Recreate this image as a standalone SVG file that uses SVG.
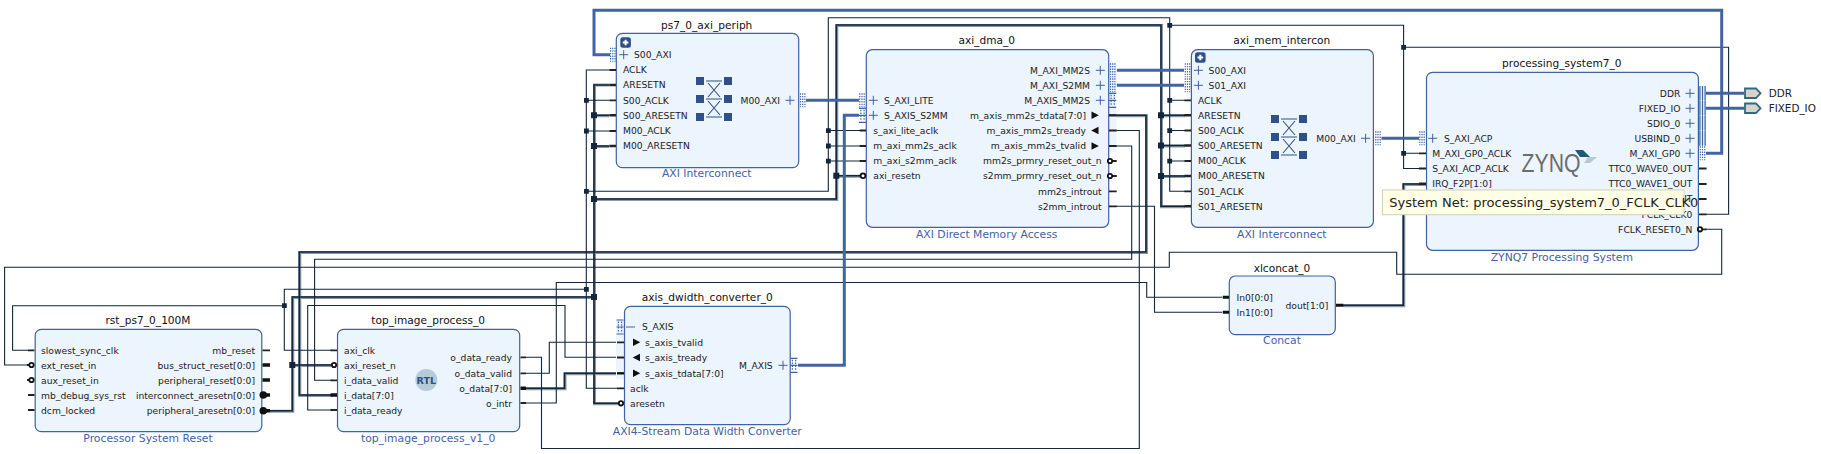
<svg xmlns="http://www.w3.org/2000/svg" width="1821" height="454" viewBox="0 0 1821 454">
<style>
text{font-family:"DejaVu Sans",sans-serif;font-size:9.2px;fill:#222}
.r{text-anchor:end}
.t{font-size:10.6px;text-anchor:middle;fill:#111}
.s{font-size:10.8px;text-anchor:middle;fill:#3f62a6}
.box{fill:#ecf4fe;stroke:#3f62a6;stroke-width:1.2}
.bg{fill:#ecf4fe}
.w{fill:none;stroke:#12263c;stroke-width:1.1}
.h{fill:none;stroke:#8a97a5;stroke-width:3}
.k{fill:none;stroke:#12263c;stroke-width:1.6}
.b{fill:none;stroke:#4264a4;stroke-width:3}
.j{fill:#12263c}
.st{fill:none;stroke:#222;stroke-width:1.8}
.sb{fill:none;stroke:#111;stroke-width:3.4}
.pl{fill:none;stroke:#3f62a6;stroke-width:1}
.neg{fill:#fff;stroke:#111;stroke-width:1.8}
.tri{fill:#111}
.port{fill:#d8d2cc;stroke:#2f6a80;stroke-width:1.8}
</style>
<defs>
<g id="hA"><path d="M-2.2-7V7M0-7V7M2.2-7V7" fill="none" stroke="#3f68ac" stroke-width="1.2" stroke-dasharray="1.4 1.2"/></g>
<g id="hS"><path d="M-3.5-7H3.5M-3.5 0H3.5M-3.5 7H3.5" fill="none" stroke="#3f62a6" stroke-width="1.2"/><path d="M-1.6-5.5V5.5M1.6-5.5V5.5" fill="none" stroke="#3f62a6" stroke-width="1.2" stroke-dasharray="1.5 1.3"/></g>
<g id="hD"><path d="M-2.6-7.4V7.4M0-7.4V7.4M2.6-7.4V7.4" fill="none" stroke="#3f62a6" stroke-width="1.3"/></g>
<g id="plus"><path d="M-4.5 0H4.5M0-4.5V4.5" class="pl"/></g>
<g id="tr"><path d="M-3.5-3.8L3.8 0L-3.5 3.8Z" class="tri"/></g>
<g id="tl"><path d="M3.5-3.8L-3.8 0L3.5 3.8Z" class="tri"/></g>
<g id="xb"><path d="M0 0h8v8h-8zM28 0h8v8h-8zM0 18h8v8h-8zM28 18h8v8h-8zM0 36h8v8h-8zM28 36h8v8h-8z" fill="#2f5088"/><path d="M10 4H26M10 22H26M10 40H26M12 6L24 20M24 6L12 20M12 24L24 38M24 24L12 38" fill="none" stroke="#2f5088" stroke-width="1.1"/></g>
<g id="exp"><rect width="10.6" height="10.4" rx="2.5" fill="#2f5088"/><path d="M5.3 2.4V8M2.5 5.2H8.1" stroke="#fff" stroke-width="2"/></g>
</defs>
<rect width="1821" height="454" fill="#fff"/>

<g id="connectors">
<g>
<path class="h" d="M609.3 85H594.5V403.8H620M594.5 115.8H609M594.5 146.5H609M594.5 199.5H836.8V25.5H1161.5V206.8H1185M836.8 176.2H860M1161.5 115.8H1185M1161.5 146H1185M1161.5 176.5H1185M594.5 297.5H292.8V411.2H270M292.8 365.5H331M1116 115.8H1146.5V252.5H299.8V395.5H333M526 388.8H565V373.8H617M1343 305.8H1403.8V184.5H1419"/>
<path class="k" d="M609.3 85H594V403.3H620M594 115.3H609M594 146H609M594 199H836.3V25H1161V206.3H1185M836.3 175.7H860M1161 115.3H1185M1161 145.5H1185M1161 176H1185M594 297H292.3V410.7H270M292.3 365H331M1116 115.3H1146V252H299.3V395H333M526 388.3H564.5V373.3H617M1343 305.3H1403.3V184H1419"/>
</g>
<path class="w" d="M609 70H586.3V388.3H617M586.3 100.3H609M586.3 131H609M586.3 191.3H828.3V161H860M828.3 130.5H860M828.3 146H860M828.3 161V17.7H1169.7V191.3H1185M1169.7 100.3H1185M1169.7 130.5H1185M1169.7 161H1185M1169.7 25.3H1403.6V168.5H1419M1403.6 153.3H1419M1403.6 47.3H1728.6V214.3H1706M586.3 289.3H284.3V350.3H333M284.3 305.7H12.6V350.3H28"/>
<path class="w" d="M1706 229.3H1721.7V274.3H1396.7V252.3H1169.3V267.3H4.6V365H28M1116 146H1131.7V259.3H314.6V380.3H333M1116 130.5H1139.3V448.5H541.5V357.3H526M333 410H307.7V305.5H565V357.3H617M526 373.3H549.3V342.3H617M526 403H556.3V282.5H1146.7V297.3H1222M1116 206.3H1154.5V312.3H1222"/>
<path class="b" d="M1706 153.3H1721.7V10.3H594V54.7H610M806 100.3H859M798 365.3H844.3V115.3H859M1116.7 70.3H1184M1116.7 85.3H1184M1381.5 138.3H1419M1706 93.3H1744M1706 108.3H1744"/>
<path class="j" d="M584 98h4.8v4.8h-4.8zM584 128.6h4.8v4.8h-4.8zM584 189h4.8v4.8h-4.8zM826 128.2h4.8v4.8h-4.8zM826 143.6h4.8v4.8h-4.8zM826 158.7h4.8v4.8h-4.8zM1167.3 23h4.8v4.8h-4.8zM1167.3 98h4.8v4.8h-4.8zM1167.3 128.2h4.8v4.8h-4.8zM1167.3 158.7h4.8v4.8h-4.8zM1401.2 45h4.8v4.8h-4.8zM1401.2 151h4.8v4.8h-4.8zM584 287h4.8v4.8h-4.8zM282 303.3h4.8v4.8h-4.8z"/>
<path class="j" d="M591 112.3h6v6h-6zM591 143h6v6h-6zM591 196h6v6h-6zM591 294h6v6h-6zM833.3 172.7h6v6h-6zM1158 112.3h6v6h-6zM1158 142.5h6v6h-6zM1158 173h6v6h-6zM289.3 362h6v6h-6z"/>
</g>

<g id="rst_ps7_0_100M">
<text class="t" x="148" y="324.2">rst_ps7_0_100M</text>
<rect class="box" x="35.2" y="329.3" width="226.6" height="102.4" rx="6"/>
<path class="st" d="M28 350.3H34.5M28 395H34.5M28 410H34.5M262.5 350.3H270"/>
<path class="sb" d="M262.5 365H270M262.5 380H270M262.5 395H270M262.5 410.7H270"/>
<path class="st" d="M27 365H30M27 380H30"/>
<circle class="neg" cx="31.5" cy="365" r="2.2"/><circle class="neg" cx="31.5" cy="380" r="2.2"/>
<circle cx="263.3" cy="395" r="3.8" fill="#111"/><circle cx="263.3" cy="410.7" r="3.8" fill="#111"/>
<text x="41" y="353.5">slowest_sync_clk</text><text x="41" y="368.5">ext_reset_in</text><text x="41" y="383.5">aux_reset_in</text><text x="41" y="398.5">mb_debug_sys_rst</text><text x="41" y="413.5">dcm_locked</text>
<text class="r" x="255" y="353.5">mb_reset</text><text class="r" x="255" y="368.5">bus_struct_reset[0:0]</text><text class="r" x="255" y="383.5">peripheral_reset[0:0]</text><text class="r" x="255" y="398.5">interconnect_aresetn[0:0]</text><text class="r" x="255" y="413.5">peripheral_aresetn[0:0]</text>
<text class="s" x="148" y="442.3">Processor System Reset</text>
</g>

<g id="top_image_process_0">
<text class="t" x="428.2" y="324.2">top_image_process_0</text>
<rect class="box" x="337.5" y="329.3" width="182.2" height="102.4" rx="6"/>
<path class="st" d="M330.5 350.3H337M330.5 380.3H337M330.5 410H337M520.5 357.3H526M520.5 373.3H526M520.5 403H526"/>
<path class="sb" d="M330.5 395H337M520.5 388.3H526"/>
<circle class="neg" cx="334" cy="365" r="2.2"/>
<text x="344" y="353.5">axi_clk</text><text x="344" y="368.5">axi_reset_n</text><text x="344" y="383.5">i_data_valid</text><text x="344" y="398.5">i_data[7:0]</text><text x="344" y="413.5">i_data_ready</text>
<text class="r" x="512" y="360.5">o_data_ready</text><text class="r" x="512" y="376.5">o_data_valid</text><text class="r" x="512" y="391.5">o_data[7:0]</text><text class="r" x="512" y="406.5">o_intr</text>
<circle cx="426.3" cy="380" r="11" fill="#b5cbd8"/>
<text x="426.3" y="383.7" text-anchor="middle" style="font-size:9.5px;font-weight:bold;fill:#2f5088">RTL</text>
<text class="s" x="428.2" y="442.3">top_image_process_v1_0</text>
</g>

<g id="axis_dwidth_converter_0">
<text class="t" x="707.3" y="301.2">axis_dwidth_converter_0</text>
<rect class="bg" x="616" y="320" width="10" height="59"/>
<rect class="box" x="624.5" y="306.3" width="165.7" height="118.4" rx="6"/>
<path class="st" d="M617 342.3H624M617 357.5H624M617 388.3H624"/>
<path d="M617 373.3H624" class="sb" style="stroke-width:2.4"/>
<path class="pl" d="M626 327H635"/>
<use href="#hS" x="620" y="327"/>
<use href="#tr" x="636.5" y="342.3"/><use href="#tl" x="636.5" y="357.5"/><use href="#tr" x="636.5" y="373.3"/>
<circle class="neg" cx="621" cy="403.3" r="2.2"/>
<text x="642" y="330.3">S_AXIS</text><text x="645" y="345.5">s_axis_tvalid</text><text x="645" y="360.8">s_axis_tready</text><text x="645" y="376.5">s_axis_tdata[7:0]</text><text x="630" y="391.5">aclk</text><text x="630" y="406.5">aresetn</text>
<text class="r" x="772.7" y="368.5">M_AXIS</text>
<use href="#plus" x="783" y="365.3"/><use href="#hS" x="794" y="365.3"/>
<text class="s" x="707.3" y="435.3">AXI4-Stream Data Width Converter</text>
</g>

<g id="ps7_0_axi_periph">
<text class="t" x="706.7" y="28.8">ps7_0_axi_periph</text>
<rect class="box" x="616.3" y="33.3" width="182.4" height="134.4" rx="6"/>
<use href="#exp" x="620.3" y="37.3"/>
<path class="st" d="M609.3 70H616M609.3 100.3H616M609.3 131H616"/>
<path class="st" style="stroke-width:2.4" d="M609.3 85H616M609.3 115.3H616M609.3 146H616"/>
<use href="#hA" x="612.8" y="54.7"/><use href="#plus" x="623.7" y="54.7"/>
<use href="#xb" x="696" y="77"/>
<text x="634" y="57.9">S00_AXI</text><text x="623" y="73.2">ACLK</text><text x="623" y="88.2">ARESETN</text><text x="623" y="103.5">S00_ACLK</text><text x="623" y="118.5">S00_ARESETN</text><text x="623" y="133.8">M00_ACLK</text><text x="623" y="148.8">M00_ARESETN</text>
<text class="r" x="780" y="103.5">M00_AXI</text>
<use href="#plus" x="790" y="100.3"/><use href="#hA" x="802.7" y="100.3"/>
<text class="s" x="706.7" y="177.3">AXI Interconnect</text>
</g>

<g id="axi_dma_0">
<text class="t" x="986.7" y="44.2">axi_dma_0</text>
<rect class="bg" x="1105" y="63" width="11.5" height="89"/>
<rect class="box" x="866.3" y="49.7" width="242.4" height="177.6" rx="6"/>
<path class="st" d="M859.7 130.5H866M859.7 146H866M859.7 161H866M1109 130.5H1116.7M1109 146H1116.7M1112 161H1116.7M1112 176H1116.7M1109 191.3H1116.7M1109 206.3H1116.7"/>
<path class="st" style="stroke-width:2.4" d="M1109 115.3H1116.7"/>
<circle class="neg" cx="863" cy="175.7" r="2.4"/><circle class="neg" cx="1110" cy="161" r="2.2"/><circle class="neg" cx="1110" cy="176" r="2.2"/>
<use href="#hA" x="862" y="100.3"/><use href="#hS" x="862.5" y="115.3"/>
<use href="#plus" x="873.3" y="100.3"/><use href="#plus" x="873.3" y="115.3"/>
<use href="#plus" x="1100.3" y="70.3"/><use href="#plus" x="1100.3" y="85.3"/><use href="#plus" x="1100.3" y="100.3"/>
<use href="#hA" x="1112.7" y="70.3"/><use href="#hA" x="1112.7" y="85.3"/><use href="#hS" x="1112.7" y="100.3"/>
<use href="#tr" x="1095" y="115.3"/><use href="#tl" x="1095" y="130.5"/><use href="#tr" x="1095" y="146"/>
<text x="884" y="103.5">S_AXI_LITE</text><text x="884" y="118.5">S_AXIS_S2MM</text><text x="873.3" y="133.8">s_axi_lite_aclk</text><text x="873.3" y="149.2">m_axi_mm2s_aclk</text><text x="873.3" y="164.2">m_axi_s2mm_aclk</text><text x="873.3" y="179">axi_resetn</text>
<text class="r" x="1090" y="73.5">M_AXI_MM2S</text><text class="r" x="1090" y="88.5">M_AXI_S2MM</text><text class="r" x="1090" y="103.5">M_AXIS_MM2S</text><text class="r" x="1086" y="118.5">m_axis_mm2s_tdata[7:0]</text><text class="r" x="1086" y="133.8">m_axis_mm2s_tready</text><text class="r" x="1086" y="149.2">m_axis_mm2s_tvalid</text><text class="r" x="1101.7" y="164.2">mm2s_prmry_reset_out_n</text><text class="r" x="1101.7" y="179.2">s2mm_prmry_reset_out_n</text><text class="r" x="1101.7" y="194.5">mm2s_introut</text><text class="r" x="1101.7" y="209.5">s2mm_introut</text>
<text class="s" x="986.7" y="238.3">AXI Direct Memory Access</text>
</g>

<g id="axi_mem_intercon">
<text class="t" x="1281.8" y="44.2">axi_mem_intercon</text>
<rect class="box" x="1191.4" y="49.7" width="182" height="177.6" rx="6"/>
<use href="#exp" x="1195" y="52.3"/>
<path class="st" d="M1184.5 100.3H1191M1184.5 130.5H1191M1184.5 161H1191M1184.5 191.3H1191"/>
<path class="st" style="stroke-width:2.4" d="M1184.5 115.3H1191M1184.5 145.5H1191M1184.5 176H1191M1184.5 206.3H1191"/>
<use href="#hA" x="1187.5" y="70.3"/><use href="#hA" x="1187.5" y="85.3"/><use href="#plus" x="1198.4" y="70.3"/><use href="#plus" x="1198.4" y="85.3"/>
<use href="#xb" x="1271" y="115"/>
<text x="1208.6" y="73.5">S00_AXI</text><text x="1208.6" y="88.5">S01_AXI</text><text x="1198" y="103.5">ACLK</text><text x="1198" y="118.5">ARESETN</text><text x="1198" y="133.8">S00_ACLK</text><text x="1198" y="148.8">S00_ARESETN</text><text x="1198" y="164.2">M00_ACLK</text><text x="1198" y="179.2">M00_ARESETN</text><text x="1198" y="194.5">S01_ACLK</text><text x="1198" y="209.5">S01_ARESETN</text>
<text class="r" x="1355.8" y="141.5">M00_AXI</text>
<use href="#plus" x="1365.6" y="138.3"/><use href="#hA" x="1378" y="138.3"/>
<text class="s" x="1281.8" y="238.3">AXI Interconnect</text>
</g>

<g id="xlconcat_0">
<text class="t" x="1282" y="271.8">xlconcat_0</text>
<rect class="box" x="1229.3" y="276" width="106" height="58.7" rx="6"/>
<path class="sb" style="stroke-width:3" d="M1222.7 297.3H1229M1222.7 312.3H1229M1336 305.3H1343.3"/>
<text x="1236.5" y="300.5">In0[0:0]</text><text x="1236.5" y="315.5">In1[0:0]</text><text class="r" x="1328.3" y="308.5">dout[1:0]</text>
<text class="s" x="1282" y="344">Concat</text>
</g>

<g id="processing_system7_0">
<text class="t" x="1561.8" y="67.2">processing_system7_0</text>
<rect class="box" x="1426.5" y="72.3" width="271.9" height="178" rx="6"/>
<path class="st" d="M1419 153.3H1426M1419 168.5H1426M1699 168.5H1706.6M1699 184H1706.6M1699 199H1706.6M1699 214.3H1706.6M1701.5 229.3H1706.6"/>
<path class="st" style="stroke-width:3" d="M1419 184H1426"/>
<circle class="neg" cx="1700" cy="229.3" r="2.2"/>
<use href="#hA" x="1422" y="138.3"/><use href="#plus" x="1432.7" y="138.3"/>
<use href="#hD" x="1702.5" y="93.3"/><use href="#hD" x="1702.5" y="108.3"/><use href="#hD" x="1702.5" y="123.3"/><use href="#hD" x="1702.5" y="138.3"/><use href="#hA" x="1702.5" y="153.3"/>
<use href="#plus" x="1690" y="93.3"/><use href="#plus" x="1690" y="108.3"/><use href="#plus" x="1690" y="123.3"/><use href="#plus" x="1690" y="138.3"/><use href="#plus" x="1690" y="153.3"/>
<text x="1444" y="141.5">S_AXI_ACP</text><text x="1432.2" y="156.5">M_AXI_GP0_ACLK</text><text x="1432.2" y="171.8">S_AXI_ACP_ACLK</text><text x="1432.2" y="187.2">IRQ_F2P[1:0]</text>
<text class="r" x="1680.4" y="96.5">DDR</text><text class="r" x="1680.4" y="111.5">FIXED_IO</text><text class="r" x="1680.4" y="126.5">SDIO_0</text><text class="r" x="1680.4" y="141.5">USBIND_0</text><text class="r" x="1680.4" y="156.5">M_AXI_GP0</text>
<text class="r" x="1692.3" y="171.8">TTC0_WAVE0_OUT</text><text class="r" x="1692.3" y="187.2">TTC0_WAVE1_OUT</text><text class="r" x="1692.3" y="202.2">TTC0_WAVE2_OUT</text><text class="r" x="1692.3" y="217.5">FCLK_CLK0</text><text class="r" x="1692.3" y="232.5">FCLK_RESET0_N</text>
<text x="1521.5" y="171.5" textLength="59" lengthAdjust="spacingAndGlyphs" style="font-family:'Liberation Sans',sans-serif;font-size:26px;fill:#6c6c6c">ZYNQ</text>
<path d="M1575 150H1583L1590 157H1580Z" fill="#1f5a78"/><path d="M1588 157H1597L1590 163H1584Z" fill="#b8c8d4"/>
<text class="s" x="1561.8" y="261.3">ZYNQ7 Processing System</text>
</g>

<g id="DDR">
<path class="port" d="M1745 88.5H1756L1760.5 93.3L1756 98H1745Z"/>
<text style="font-size:10.4px" x="1768.7" y="97">DDR</text>
</g>
<g id="FIXED_IO">
<path class="port" d="M1745 103.5H1756L1760.5 108.3L1756 113H1745Z"/>
<text style="font-size:10.4px" x="1768.7" y="112">FIXED_IO</text>
</g>

<g id="tooltip">
<rect x="1382.4" y="190" width="301.6" height="24.7" fill="#ffffe5" stroke="#d0d0b8" stroke-width="1"/>
<text x="1389.3" y="206.5" style="font-size:13px">System Net: processing_system7_0_FCLK_CLK0</text>
</g>
</svg>
